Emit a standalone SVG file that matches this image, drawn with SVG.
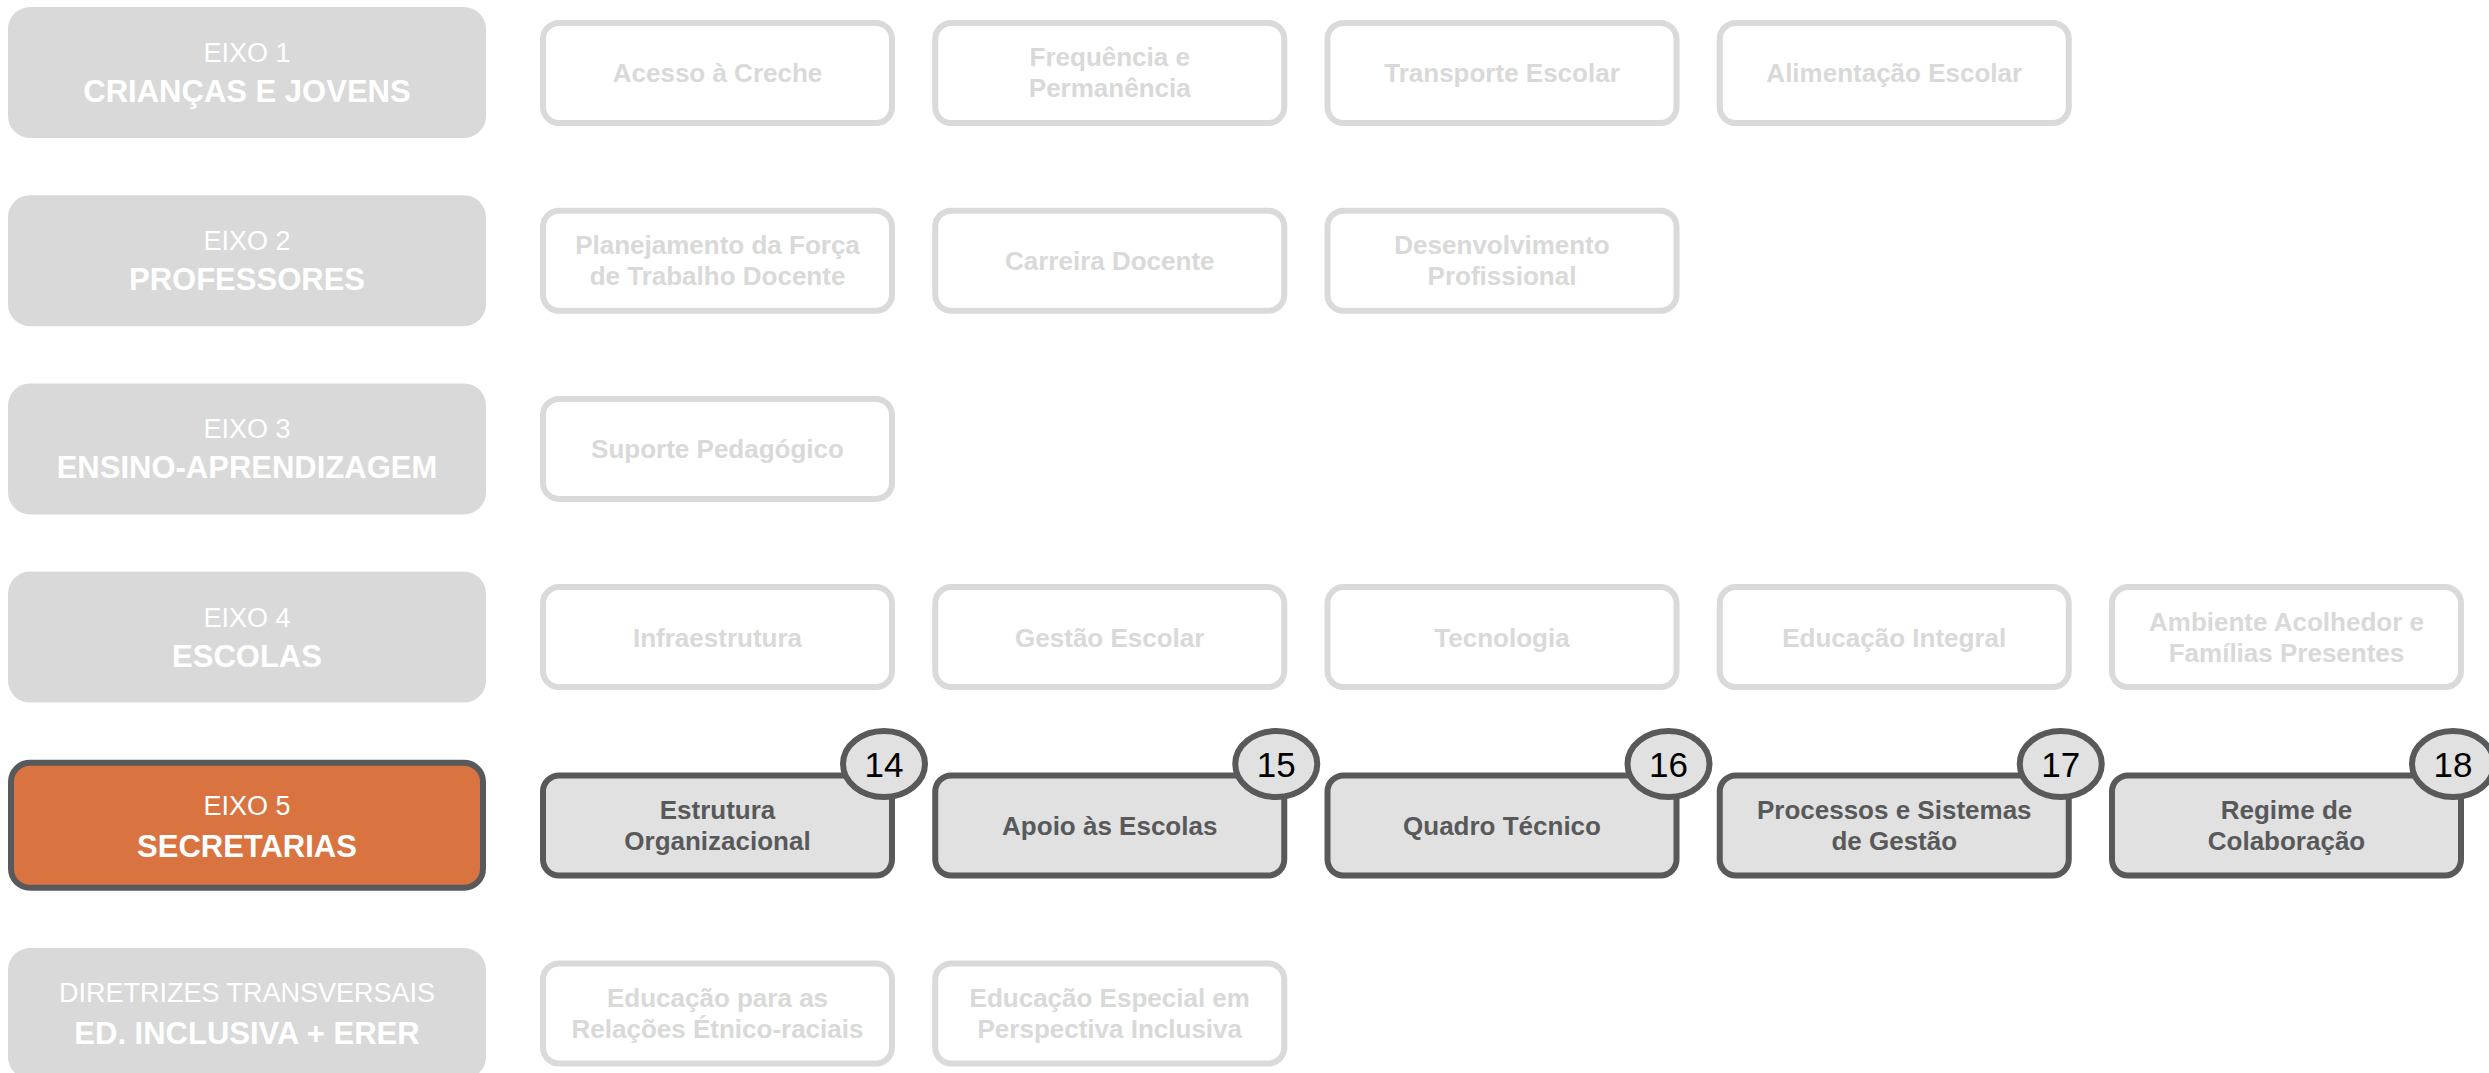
<svg xmlns="http://www.w3.org/2000/svg" width="2489" height="1073" viewBox="0 0 2489 1073">
<style>
.eixo{fill:#d9d9d9}
.eixoA{fill:#d97441;stroke:#58595b;stroke-width:6}
.et1{font-family:"Liberation Sans",Arial,sans-serif;font-size:27px;fill:#ffffff;text-anchor:middle}
.et2{font-family:"Liberation Sans",Arial,sans-serif;font-size:31px;font-weight:bold;fill:#ffffff;text-anchor:middle}
.sub{fill:#ffffff;stroke:#dadada;stroke-width:6}
.st{font-family:"Liberation Sans",Arial,sans-serif;font-size:26px;font-weight:bold;fill:#d9d9d9;text-anchor:middle}
.subA{fill:#e1e1e1;stroke:#58595b;stroke-width:6}
.stA{font-family:"Liberation Sans",Arial,sans-serif;font-size:26px;font-weight:bold;fill:#58595b;text-anchor:middle}
.num{fill:#e1e1e1;stroke:#58595b;stroke-width:6}
.nt{font-family:"Liberation Sans",Arial,sans-serif;font-size:35px;fill:#000000;text-anchor:middle}
</style>
<rect width="2489" height="1073" fill="#ffffff"/>

<g id="eixo1"><rect class="eixo" x="8" y="7" width="478" height="131" rx="22"/><text class="et1" x="247" y="62">EIXO 1</text><text class="et2" x="247" y="102">CRIANÇAS E JOVENS</text></g>
<g id="eixo2"><rect class="eixo" x="8" y="195.2" width="478" height="131" rx="22"/><text class="et1" x="247" y="250.2">EIXO 2</text><text class="et2" x="247" y="290.2">PROFESSORES</text></g>
<g id="eixo3"><rect class="eixo" x="8" y="383.4" width="478" height="131" rx="22"/><text class="et1" x="247" y="438.4">EIXO 3</text><text class="et2" x="247" y="478.4">ENSINO-APRENDIZAGEM</text></g>
<g id="eixo4"><rect class="eixo" x="8" y="571.6" width="478" height="131" rx="22"/><text class="et1" x="247" y="626.6">EIXO 4</text><text class="et2" x="247" y="666.6">ESCOLAS</text></g>
<g id="eixo5"><rect class="eixoA" x="11" y="762.8" width="472" height="125" rx="19"/><text class="et1" x="247" y="814.8">EIXO 5</text><text class="et2" x="247" y="856.8">SECRETARIAS</text></g>
<g id="diretrizes"><rect class="eixo" x="8" y="948" width="478" height="131" rx="22"/><text class="et1" x="247" y="1002">DIRETRIZES TRANSVERSAIS</text><text class="et2" x="247" y="1044">ED. INCLUSIVA + ERER</text></g>

<g id="n-acesso"><rect class="sub" x="543" y="23" width="349" height="100" rx="16"/><text class="st" x="717.5" y="82">Acesso à Creche</text></g>
<g id="n-frequencia"><rect class="sub" x="935.25" y="23" width="349" height="100" rx="16"/><text class="st" x="1109.75" y="66">Frequência e</text><text class="st" x="1109.75" y="97">Permanência</text></g>
<g id="n-transporte"><rect class="sub" x="1327.5" y="23" width="349" height="100" rx="16"/><text class="st" x="1502" y="82">Transporte Escolar</text></g>
<g id="n-alimentacao"><rect class="sub" x="1719.75" y="23" width="349" height="100" rx="16"/><text class="st" x="1894.25" y="82">Alimentação Escolar</text></g>

<g id="n-planejamento"><rect class="sub" x="543" y="210.7" width="349" height="100" rx="16"/><text class="st" x="717.5" y="254.2">Planejamento da Força</text><text class="st" x="717.5" y="285.2">de Trabalho Docente</text></g>
<g id="n-carreira"><rect class="sub" x="935.25" y="210.7" width="349" height="100" rx="16"/><text class="st" x="1109.75" y="270.2">Carreira Docente</text></g>
<g id="n-desenvolvimento"><rect class="sub" x="1327.5" y="210.7" width="349" height="100" rx="16"/><text class="st" x="1502" y="254.2">Desenvolvimento</text><text class="st" x="1502" y="285.2">Profissional</text></g>

<g id="n-suporte"><rect class="sub" x="543" y="398.9" width="349" height="100" rx="16"/><text class="st" x="717.5" y="458.4">Suporte Pedagógico</text></g>

<g id="n-infra"><rect class="sub" x="543" y="587.1" width="349" height="100" rx="16"/><text class="st" x="717.5" y="646.6">Infraestrutura</text></g>
<g id="n-gestao"><rect class="sub" x="935.25" y="587.1" width="349" height="100" rx="16"/><text class="st" x="1109.75" y="646.6">Gestão Escolar</text></g>
<g id="n-tecnologia"><rect class="sub" x="1327.5" y="587.1" width="349" height="100" rx="16"/><text class="st" x="1502" y="646.6">Tecnologia</text></g>
<g id="n-integral"><rect class="sub" x="1719.75" y="587.1" width="349" height="100" rx="16"/><text class="st" x="1894.25" y="646.6">Educação Integral</text></g>
<g id="n-ambiente"><rect class="sub" x="2112" y="587.1" width="349" height="100" rx="16"/><text class="st" x="2286.5" y="630.6">Ambiente Acolhedor e</text><text class="st" x="2286.5" y="661.6">Famílias Presentes</text></g>

<g id="n14"><rect class="subA" x="543" y="775.5" width="349" height="100" rx="16"/><text class="stA" x="717.5" y="819">Estrutura</text><text class="stA" x="717.5" y="850">Organizacional</text><ellipse class="num" cx="884" cy="764" rx="41" ry="33"/><text class="nt" x="884" y="777">14</text></g>
<g id="n15"><rect class="subA" x="935.25" y="775.5" width="349" height="100" rx="16"/><text class="stA" x="1109.75" y="835">Apoio às Escolas</text><ellipse class="num" cx="1276.25" cy="764" rx="41" ry="33"/><text class="nt" x="1276.25" y="777">15</text></g>
<g id="n16"><rect class="subA" x="1327.5" y="775.5" width="349" height="100" rx="16"/><text class="stA" x="1502" y="835">Quadro Técnico</text><ellipse class="num" cx="1668.5" cy="764" rx="41" ry="33"/><text class="nt" x="1668.5" y="777">16</text></g>
<g id="n17"><rect class="subA" x="1719.75" y="775.5" width="349" height="100" rx="16"/><text class="stA" x="1894.25" y="819">Processos e Sistemas</text><text class="stA" x="1894.25" y="850">de Gestão</text><ellipse class="num" cx="2060.75" cy="764" rx="41" ry="33"/><text class="nt" x="2060.75" y="777">17</text></g>
<g id="n18"><rect class="subA" x="2112" y="775.5" width="349" height="100" rx="16"/><text class="stA" x="2286.5" y="819">Regime de</text><text class="stA" x="2286.5" y="850">Colaboração</text><ellipse class="num" cx="2453" cy="764" rx="41" ry="33"/><text class="nt" x="2453" y="777">18</text></g>

<g id="n-erer"><rect class="sub" x="543" y="963.5" width="349" height="100" rx="16"/><text class="st" x="717.5" y="1007">Educação para as</text><text class="st" x="717.5" y="1038">Relações Étnico-raciais</text></g>
<g id="n-especial"><rect class="sub" x="935.25" y="963.5" width="349" height="100" rx="16"/><text class="st" x="1109.75" y="1007">Educação Especial em</text><text class="st" x="1109.75" y="1038">Perspectiva Inclusiva</text></g>

<g id="connectors"></g>
</svg>
